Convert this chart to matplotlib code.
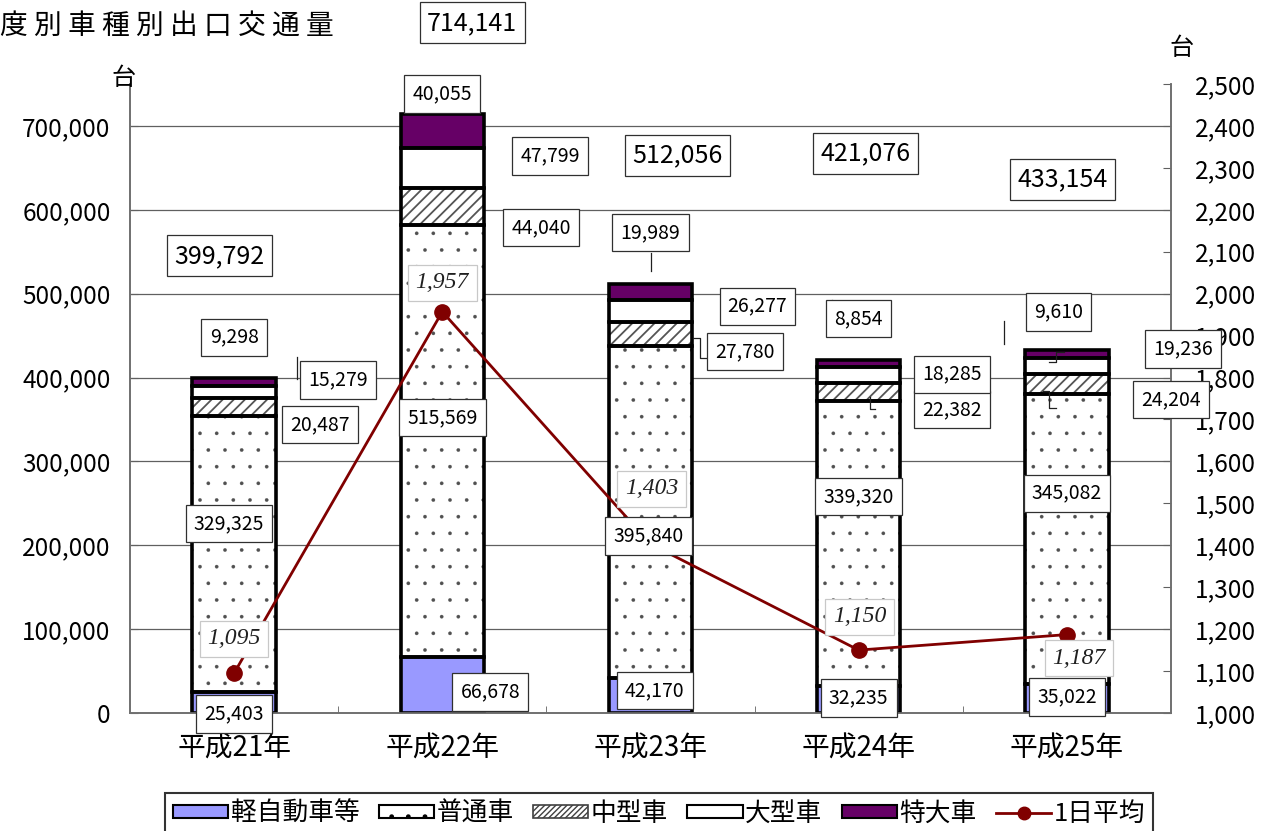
import matplotlib
matplotlib.use('Agg')
import matplotlib.pyplot as plt
import numpy as np
from matplotlib.patches import Patch
from matplotlib.lines import Line2D

plt.rcParams['font.family'] = ['Noto Sans CJK JP', 'DejaVu Sans']

# ---------------- data ----------------
years = ['平成21年', '平成22年', '平成23年', '平成24年', '平成25年']
series_names = ['軽自動車等', '普通車', '中型車', '大型車', '特大車']
line_name = '1日平均'
kei = [25403, 66678, 42170, 32235, 35022]
futsu = [329325, 515569, 395840, 339320, 345082]
chugata = [20487, 44040, 27780, 22382, 24204]
ogata = [15279, 47799, 26277, 18285, 19236]
tokudai = [9298, 40055, 19989, 8854, 9610]
totals = [399792, 714141, 512056, 421076, 433154]
daily_avg = [1095, 1957, 1403, 1150, 1187]
left_ticks = [0, 100000, 200000, 300000, 400000, 500000, 600000, 700000]
right_ticks = [1000, 1100, 1200, 1300, 1400, 1500, 1600, 1700, 1800, 1900,
               2000, 2100, 2200, 2300, 2400, 2500]

# ---------------- label placement (dx in category units, y in axis units) ----
total_pos = [(-0.07, 545000), (0.144, 823000), (0.13, 665000), (0.034, 667000), (-0.02, 636000)]
kei_pos = [(0.0, -1000), (0.231, 25000), (0.02, 27000), (0.0, 18000), (0.0, 19000)]
futsu_pos = [(-0.024, 226000), (0.0, 352000), (-0.01, 211000), (0.0, 258000), (0.0, 262000)]
chugata_pos = [(0.413, 344000), (0.476, 579000), (0.452, 431000), (0.447, 362000), (0.5, 374000)]
ogata_pos = [(0.5, 397000), (0.519, 664000), (0.514, 485000), (0.447, 404000), (0.558, 434000)]
tokudai_pos = [(0.0, 448000), (0.0, 738000), (0.0, 573000), (0.0, 470000), (-0.04, 478000)]
avg_pos = [(0.0, 1177), (0.0, 2026), (0.005, 1535), (0.005, 1229), (0.058, 1131)]
# leader lines: (category, [dx...], [y...])
leaders = [
    (0, [0.303, 0.303], [424000, 398000]),
    (1, [0.351, 0.385, 0.385], [650000, 650000, 670000]),
    (1, [0.332, 0.361, 0.361], [600000, 600000, 573000]),
    (2, [0.0, 0.0], [549000, 527000]),
    (2, [0.202, 0.236, 0.236, 0.298], [447000, 447000, 423000, 423000]),
    (3, [-0.13, -0.13], [493000, 467000]),
    (3, [0.053, 0.053, 0.08], [377000, 363000, 363000]),
    (4, [-0.303, -0.303], [467000, 440000]),
    (4, [-0.087, -0.053, -0.053, -0.014], [419000, 419000, 431000, 431000]),
    (4, [-0.115, -0.087, -0.087, -0.053], [383500, 383500, 364000, 364000]),
]

# ---------------- figure ----------------
fig = plt.figure(figsize=(12.73, 8.31), dpi=100)
ax = fig.add_axes([130 / 1273, 1 - 713 / 831, (1171 - 130) / 1273, (713 - 84) / 831])
ax2 = ax.twinx()

x = np.arange(len(years))
w = 0.4
fills = [
    dict(color='#9999FF', hlw=1.0),
    dict(color='white', hatch='.', edgecolor='#505050', hlw=0.2),
    dict(color='white', hatch='///', edgecolor='#555555', hlw=1.3),
    dict(color='white', hlw=1.0),
    dict(color='#660066', hlw=1.0),
]
stack = [kei, futsu, chugata, ogata, tokudai]
bottom = np.zeros(len(years))
for vals, style in zip(stack, fills):
    vals = np.array(vals, dtype=float)
    st = dict(style)
    fc = st.pop('color')
    hlw = st.pop('hlw')
    with plt.rc_context({'hatch.linewidth': hlw}):
        ax.bar(x, vals, width=w, bottom=bottom, facecolor=fc, linewidth=0, zorder=2, **st)
    ax.bar(x, vals, width=w, bottom=bottom, fill=False, edgecolor='black',
           linewidth=2.6, zorder=3)
    bottom += vals

ax.set_xlim(-0.5, len(years) - 0.5)
ax.set_ylim(0, 750000)
ax.set_yticks(left_ticks)
ax.set_yticklabels([f'{v:,}' for v in left_ticks])
ax.set_xticks(x)
ax.set_xticklabels(years)
ax.set_xticks(np.arange(0.5, len(years) - 0.5, 1), minor=True)
ax.tick_params(axis='x', which='major', length=0, pad=15, labelsize=20)
ax.tick_params(axis='x', which='minor', direction='in', length=5, color='#606060')
ax.tick_params(axis='y', direction='in', length=6, pad=14, labelsize=17.5, color='#606060')
ax.yaxis.grid(True, color='#606060', linewidth=0.9, zorder=0)
ax.set_axisbelow(True)

ax2.plot(x, daily_avg, color='#800000', linewidth=2, marker='o', markersize=11, zorder=4)
ax2.set_ylim(1000, 2500)
ax2.set_yticks(right_ticks)
ax2.set_yticklabels([f'{v:,}' for v in right_ticks])
ax2.tick_params(axis='y', direction='in', length=6, pad=17, labelsize=17.5, color='#606060')

for a in (ax, ax2):
    a.spines['top'].set_visible(False)
    for s in ('left', 'right', 'bottom'):
        a.spines[s].set_color('#707070')
        a.spines[s].set_linewidth(1.2)

# leader lines
for i, dxs, ys in leaders:
    ax2.plot([i + d for d in dxs], ys, color='#202020', linewidth=0.9,
             transform=ax.transData, zorder=5, clip_on=False)

# ---------------- labels ----------------
seg_box = dict(boxstyle='square,pad=0.42', facecolor='white', edgecolor='#303030', linewidth=0.9)
tot_box = dict(boxstyle='square,pad=0.3', facecolor='white', edgecolor='#303030', linewidth=0.9)
avg_box = dict(boxstyle='square,pad=0.32', facecolor='white', edgecolor='#c8c8c8', linewidth=0.9)

for vals, pos in zip(stack, [kei_pos, futsu_pos, chugata_pos, ogata_pos, tokudai_pos]):
    for i, (v, (dx, yy)) in enumerate(zip(vals, pos)):
        ax2.text(i + dx, yy, f'{v:,}', transform=ax.transData, ha='center', va='center',
                 fontsize=14, bbox=seg_box, zorder=6, clip_on=False)

for i, (v, (dx, yy)) in enumerate(zip(totals, total_pos)):
    ax2.text(i + dx, yy, f'{v:,}', transform=ax.transData, ha='center', va='center',
             fontsize=18, bbox=tot_box, zorder=6, clip_on=False)

for i, (v, (dx, yy)) in enumerate(zip(daily_avg, avg_pos)):
    ax2.text(i + dx, yy, f'{v:,}', ha='center', va='center', fontsize=17,
             family='Liberation Serif', style='italic', color='#202020',
             bbox=avg_box, zorder=6, clip_on=False)

# units and title
fig.text(124 / 1273, 1 - 78 / 831, '台', ha='center', va='center', fontsize=17.5)
fig.text(1182 / 1273, 1 - 48 / 831, '台', ha='center', va='center', fontsize=17.5)
fig.text(0, 1 - 26 / 831, ' '.join('度別車種別出口交通量'), ha='left', va='center', fontsize=20)

# ---------------- legend ----------------
with plt.rc_context({'hatch.linewidth': 0.3}):
    h_futsu = Patch(facecolor='white', edgecolor='black', linewidth=1.5, hatch='.')
with plt.rc_context({'hatch.linewidth': 1.0}):
    h_chu = Patch(facecolor='white', edgecolor='#404040', linewidth=1.2, hatch='//////')
handles = [
    Patch(facecolor='#9999FF', edgecolor='black', linewidth=1.5),
    h_futsu,
    h_chu,
    Patch(facecolor='white', edgecolor='black', linewidth=1.5),
    Patch(facecolor='#660066', edgecolor='black', linewidth=1.5),
    Line2D([0], [0], color='#800000', linewidth=2, marker='o', markersize=9),
]
leg = fig.legend(handles, series_names + [line_name], loc='upper center',
                 bbox_to_anchor=(659 / 1273, 1 - 793 / 831), ncol=6, frameon=True,
                 fancybox=False, edgecolor='black', fontsize=18.5, handlelength=2.15,
                 handleheight=0.4, handletextpad=0.1, columnspacing=0.75,
                 borderpad=0.3, borderaxespad=0)
leg.get_frame().set_linewidth(1.5)

fig.savefig('out.png', dpi=100)
